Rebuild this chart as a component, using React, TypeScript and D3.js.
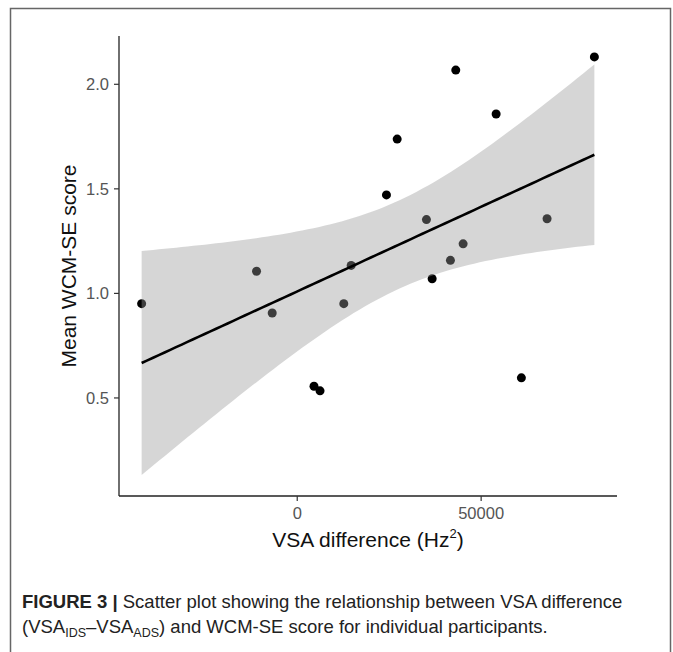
import React from "react";
import * as d3 from "d3";

// VSA difference (Hz^2) for each participant
const vsaDiff = [
  -42300, -11060, -6800, 80780, 43100, 54070, 27170, 24260, 35130, 67920,
  45100, 41650, 36680, 14670, 12660, 4560, 6200, 60940,
];
// Mean WCM-SE score for each participant
const wcmScore = [
  0.951, 1.106, 0.906, 2.131, 2.068, 1.858, 1.738, 1.471, 1.353, 1.357,
  1.237, 1.158, 1.07, 1.134, 0.951, 0.556, 0.534, 0.596,
];
const xTicks = [0, 50000];
const xTickLabels = ["0", "50000"];
const yTicks = [0.5, 1.0, 1.5, 2.0];
const yTickLabels = ["0.5", "1.0", "1.5", "2.0"];

const T_975_16 = 2.119905; // t quantile, df = n - 2

export default function App() {
  const n = vsaDiff.length;
  const mx = d3.mean(vsaDiff)!;
  const my = d3.mean(wcmScore)!;
  let sxy = 0, sxx = 0, syy = 0;
  for (let i = 0; i < n; i++) {
    const dx = vsaDiff[i] - mx, dy = wcmScore[i] - my;
    sxy += dx * dy; sxx += dx * dx; syy += dy * dy;
  }
  const slope = sxy / sxx;
  const icpt = my - slope * mx;
  const s = Math.sqrt((syy - slope * sxy) / (n - 2));
  const [xMin, xMax] = d3.extent(vsaDiff) as [number, number];
  const grid = d3.range(80).map((i) => xMin + ((xMax - xMin) * i) / 79);
  const band = grid.map((x) => {
    const fit = icpt + slope * x;
    const se = s * Math.sqrt(1 / n + ((x - mx) * (x - mx)) / sxx);
    return { x, fit, lo: fit - T_975_16 * se, hi: fit + T_975_16 * se };
  });

  const xPad = 0.05 * (xMax - xMin);
  const yLo = Math.min(d3.min(wcmScore)!, d3.min(band, (d) => d.lo)!);
  const yHi = Math.max(d3.max(wcmScore)!, d3.max(band, (d) => d.hi)!);
  const yPad = 0.05 * (yHi - yLo);

  const left = 119, right = 617, top = 36, bottom = 496;
  const x = d3.scaleLinear().domain([xMin - xPad, xMax + xPad]).range([left, right]);
  const y = d3.scaleLinear().domain([yLo - yPad, yHi + yPad]).range([bottom, top]);

  const area = d3.area<typeof band[0]>().x((d) => x(d.x)).y0((d) => y(d.lo)).y1((d) => y(d.hi));
  const line = d3.line<typeof band[0]>().x((d) => x(d.x)).y((d) => y(d.fit));

  const font = "'Liberation Sans', Arial, Helvetica, sans-serif";
  const cx = (left + right) / 2;
  const cy = (top + bottom) / 2;

  return (
    <svg
      width={673}
      height={652}
      style={{ position: "absolute", left: 0, top: 0, background: "#fff" }}
      fontFamily={font}
    >
      <rect x={0} y={0} width={673} height={652} fill="#fff" />
      <rect x={10.5} y={8.5} width={660} height={700} fill="none" stroke="#666" strokeWidth={1.5} />

      {/* points (under the ribbon, like ggplot) */}
      {vsaDiff.map((v, i) => (
        <circle key={i} cx={x(v)} cy={y(wcmScore[i])} r={4.5} fill="#000" />
      ))}
      <path d={area(band)!} fill="#999999" fillOpacity={0.4} />
      <path d={line(band)!} fill="none" stroke="#000" strokeWidth={2.6} />

      {/* axes */}
      <line x1={left} x2={left} y1={top} y2={bottom} stroke="#222" strokeWidth={1.3} />
      <line x1={left} x2={right} y1={bottom} y2={bottom} stroke="#222" strokeWidth={1.3} />
      {yTicks.map((t, i) => (
        <g key={t}>
          <line x1={left - 5} x2={left} y1={y(t)} y2={y(t)} stroke="#333" strokeWidth={1.2} />
          <text x={left - 10} y={y(t)} dy="0.35em" textAnchor="end" fontSize={16.5} fill="#555">
            {yTickLabels[i]}
          </text>
        </g>
      ))}
      {xTicks.map((t, i) => (
        <g key={t}>
          <line x1={x(t)} x2={x(t)} y1={bottom} y2={bottom + 5} stroke="#333" strokeWidth={1.2} />
          <text x={x(t)} y={bottom + 23} textAnchor="middle" fontSize={16.5} fill="#555">
            {xTickLabels[i]}
          </text>
        </g>
      ))}
      <text x={cx} y={547} textAnchor="middle" fontSize={21} fill="#111">
        VSA difference (Hz
        <tspan fontSize={13} dy={-9}>2</tspan>
        <tspan dy={9}>)</tspan>
      </text>
      <text
        transform={`translate(76,${cy}) rotate(-90)`}
        textAnchor="middle"
        fontSize={21}
        fill="#111"
      >
        Mean WCM-SE score
      </text>

      {/* caption */}
      <text x={22} y={608} fontSize={18.5} fill="#222">
        <tspan fontWeight="bold">FIGURE 3 | </tspan>
        Scatter plot showing the relationship between VSA difference
      </text>
      <text x={22} y={633} fontSize={18.5} fill="#222">
        (VSA<tspan fontSize={12.5} dy={4}>IDS</tspan>
        <tspan dy={-4}>–VSA</tspan>
        <tspan fontSize={12.5} dy={4}>ADS</tspan>
        <tspan dy={-4}>) and WCM-SE score for individual participants.</tspan>
      </text>
    </svg>
  );
}
